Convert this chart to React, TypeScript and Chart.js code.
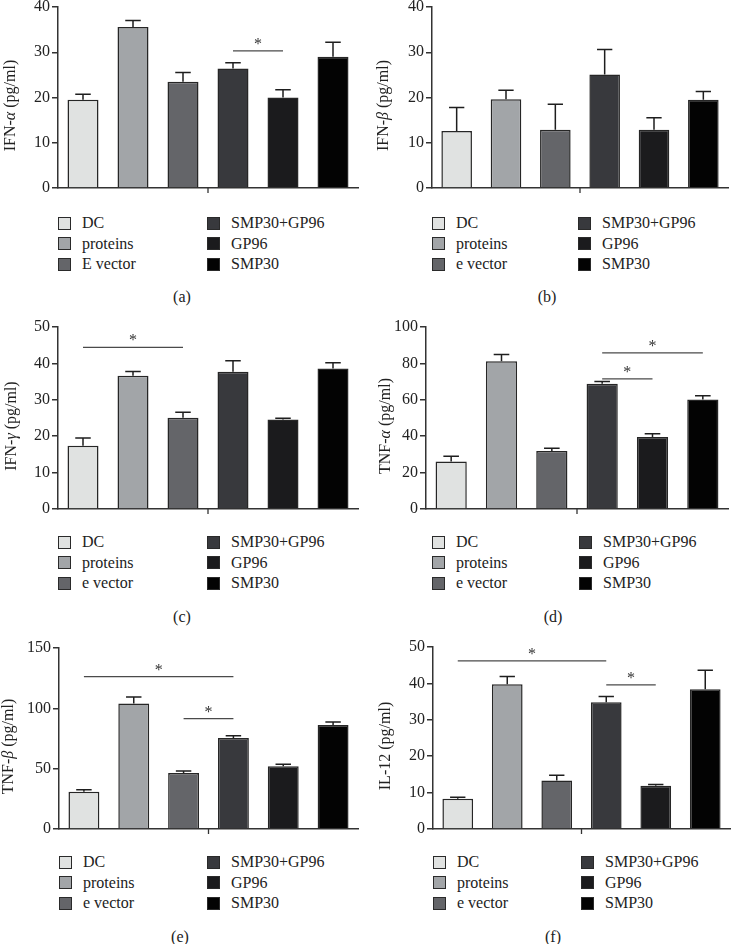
import React, { useEffect, useRef } from 'react';
import { Chart, registerables } from 'chart.js';

Chart.register(...registerables);

const FONT = '"Liberation Serif", "Times New Roman", serif';

// ---------- data ----------
const groupsA = ['DC', 'proteins', 'E vector', 'SMP30+GP96', 'GP96', 'SMP30'];
const groups = ['DC', 'proteins', 'e vector', 'SMP30+GP96', 'GP96', 'SMP30'];
const barColors = ['#e0e2e1', '#a2a5a8', '#646569', '#38393d', '#1b1b1d', '#030303'];

const ifnAlpha = [19.5, 35.6, 23.5, 26.4, 20.0, 29.0];
const ifnAlphaSD = [1.2, 1.4, 2.0, 1.3, 1.7, 3.2];
const ifnBeta = [12.6, 19.6, 12.9, 25.1, 12.9, 19.5];
const ifnBetaSD = [5.2, 2.0, 5.6, 5.5, 2.6, 1.8];
const ifnGamma = [17.4, 36.6, 25.1, 37.7, 24.6, 38.6];
const ifnGammaSD = [2.1, 1.2, 1.5, 3.0, 0.3, 1.6];
const tnfAlpha = [26.1, 81.2, 31.9, 68.8, 39.6, 60.2];
const tnfAlphaSD = [2.9, 3.7, 1.5, 1.3, 1.8, 2.0];
const tnfBeta = [30.9, 104.1, 46.4, 75.4, 51.9, 86.2];
const tnfBetaSD = [1.7, 5.3, 1.7, 1.9, 1.7, 2.5];
const il12 = [8.3, 39.8, 13.3, 34.8, 11.9, 38.4];
const il12SD = [0.4, 2.1, 1.5, 1.6, 0.3, 5.2];

// significance brackets: [from group index, to group index, y value]
const sigA: [number, number, number][] = [[3, 4, 30.3]];
const sigB: [number, number, number][] = [];
const sigC: [number, number, number][] = [[0, 2, 44.4]];
const sigD: [number, number, number][] = [[3, 5, 85.8], [3, 4, 71.5]];
const sigE: [number, number, number][] = [[0, 3, 126.2], [2, 3, 91.4]];
const sigF: [number, number, number][] = [[0, 3, 46.2], [3, 4, 39.6]];

const titleA: [string, boolean][] = [['IFN-', false], ['α', true], [' (pg/ml)', false]];
const titleB: [string, boolean][] = [['IFN-', false], ['β', true], [' (pg/ml)', false]];
const titleC: [string, boolean][] = [['IFN-', false], ['γ', true], [' (pg/ml)', false]];
const titleD: [string, boolean][] = [['TNF-', false], ['α', true], [' (pg/ml)', false]];
const titleE: [string, boolean][] = [['TNF-', false], ['β', true], [' (pg/ml)', false]];
const titleF: [string, boolean][] = [['IL-12 (pg/ml)', false]];

type PanelProps = {
  letter: string;
  legend: string[];
  values: number[];
  sd: number[];
  sig: [number, number, number][];
  yMax: number;
  yStep: number;
  title: [string, boolean][];
  left: number;
  top: number;
  w: number;
  h: number;
  area: { left: number; top: number; right: number; bottom: number };
  titleX: number;
  legendX: [number, number];
  legendY: number;
  labelX: number;
  labelY: number;
};

function Panel(p: PanelProps) {
  const ref = useRef<HTMLCanvasElement | null>(null);
  useEffect(() => {
    if (!ref.current) return;
    const overlay = {
      id: 'overlay',
      afterDatasetsDraw(chart: any) {
        const ctx = chart.ctx as CanvasRenderingContext2D;
        const ys = chart.scales.y;
        const meta = chart.getDatasetMeta(0);
        const ca = chart.chartArea;
        ctx.save();
        // error bars
        ctx.strokeStyle = '#1e1e1e';
        ctx.lineWidth = 1.5;
        meta.data.forEach((bar: any, i: number) => {
          const x = bar.x;
          const y0 = ys.getPixelForValue(p.values[i]);
          const y1 = ys.getPixelForValue(p.values[i] + p.sd[i]);
          const half = bar.width / 4;
          ctx.beginPath();
          ctx.moveTo(x, y0);
          ctx.lineTo(x, y1);
          ctx.moveTo(x - half, y1);
          ctx.lineTo(x + half, y1);
          ctx.stroke();
        });
        // significance lines
        p.sig.forEach(([a, b, v]) => {
          const x1 = meta.data[a].x;
          const x2 = meta.data[b].x;
          const py = ys.getPixelForValue(v);
          ctx.strokeStyle = '#4a4a4a';
          ctx.lineWidth = 1.3;
          ctx.beginPath();
          ctx.moveTo(x1, py);
          ctx.lineTo(x2, py);
          ctx.stroke();
          ctx.fillStyle = '#333';
          ctx.font = `16px ${FONT}`;
          ctx.textAlign = 'center';
          ctx.textBaseline = 'alphabetic';
          ctx.fillText('*', (x1 + x2) / 2, py - 2);
        });
        // center tick on x axis
        const cx = (ca.left + ca.right) / 2;
        ctx.strokeStyle = '#333';
        ctx.lineWidth = 1.3;
        ctx.beginPath();
        ctx.moveTo(cx, ca.bottom);
        ctx.lineTo(cx, ca.bottom + 5);
        ctx.stroke();
        // y axis title with italic greek
        const segs = p.title.map(([t, it]) => {
          ctx.font = `${it ? 'italic ' : ''}16px ${FONT}`;
          return { t, it, w: ctx.measureText(t).width };
        });
        const total = segs.reduce((s, x) => s + x.w, 0);
        const cy = (ca.top + ca.bottom) / 2 + 8;
        ctx.translate(p.titleX, cy);
        ctx.rotate(-Math.PI / 2);
        ctx.fillStyle = '#222';
        ctx.textBaseline = 'middle';
        ctx.textAlign = 'left';
        let sx = -total / 2;
        segs.forEach((s) => {
          ctx.font = `${s.it ? 'italic ' : ''}16px ${FONT}`;
          ctx.fillText(s.t, sx, 0);
          sx += s.w;
        });
        ctx.restore();
      },
    };
    const chart = new Chart(ref.current, {
      type: 'bar',
      data: {
        labels: p.legend,
        datasets: [
          {
            data: p.values,
            backgroundColor: barColors,
            borderColor: '#262626',
            borderWidth: 1.5,
            barPercentage: 0.62,
            categoryPercentage: 1,
          },
        ],
      },
      options: {
        responsive: false,
        animation: false,
        layout: { padding: { left: 0, top: p.area.top, right: p.w - p.area.right, bottom: 0 } },
        plugins: { legend: { display: false }, tooltip: { enabled: false } },
        scales: {
          x: {
            grid: { display: false },
            ticks: { display: false },
            border: { display: true, color: '#333', width: 1.5 },
            afterFit: (s: any) => {
              s.height = p.h - p.area.bottom;
              s.paddingLeft = 0;
              s.paddingRight = 0;
            },
          },
          y: {
            min: 0,
            max: p.yMax,
            ticks: { stepSize: p.yStep, padding: 2, color: '#222', font: { family: FONT, size: 16 } },
            grid: { display: true, drawOnChartArea: false, drawTicks: true, tickLength: 6, color: '#333', lineWidth: 1.5 },
            border: { display: true, color: '#333', width: 1.5 },
            afterFit: (s: any) => {
              s.width = p.area.left;
              s.paddingTop = 0;
              s.paddingBottom = 0;
            },
          },
        },
      } as any,
      plugins: [overlay],
    });
    return () => chart.destroy();
  }, []);

  return (
    <div style={{ position: 'absolute', left: p.left, top: p.top, width: p.w, height: 310 }}>
      <canvas ref={ref} width={p.w} height={p.h} style={{ position: 'absolute', left: 0, top: 0 }} />
      {p.legend.map((name, i) => {
        const col = Math.floor(i / 3);
        const row = i % 3;
        const x = p.legendX[col];
        const y = p.legendY + row * 20.6;
        return (
          <div
            key={name}
            style={{
              position: 'absolute',
              left: x,
              top: y - 10,
              height: 20,
              display: 'flex',
              alignItems: 'center',
              whiteSpace: 'nowrap',
              fontFamily: FONT,
              fontSize: 16,
              color: '#222',
            }}
          >
            <span
              style={{
                display: 'inline-block',
                width: 13,
                height: 13,
                boxSizing: 'border-box',
                border: '1.5px solid #2a2a2a',
                background: barColors[i],
                marginRight: 11,
              }}
            />
            <span>{name}</span>
          </div>
        );
      })}
      <div
        style={{
          position: 'absolute',
          left: p.labelX - 30,
          width: 60,
          top: p.labelY - 10,
          height: 20,
          lineHeight: '20px',
          textAlign: 'center',
          fontFamily: FONT,
          fontSize: 16,
          color: '#222',
        }}
      >
        ({p.letter})
      </div>
    </div>
  );
}

export default function App() {
  return (
    <div style={{ position: 'absolute', left: 0, top: 0, width: 731, height: 944, background: '#fff', overflow: 'hidden' }}>
      <Panel letter="a" legend={groupsA} values={ifnAlpha} sd={ifnAlphaSD} sig={sigA} yMax={40} yStep={10} title={titleA}
        left={0} top={0} w={365} h={200} area={{ left: 58, top: 7, right: 358, bottom: 188 }} titleX={11}
        legendX={[58, 207]} legendY={223} labelX={182} labelY={297} />
      <Panel letter="b" legend={groups} values={ifnBeta} sd={ifnBetaSD} sig={sigB} yMax={40} yStep={10} title={titleB}
        left={365} top={0} w={366} h={200} area={{ left: 67, top: 7, right: 363, bottom: 188 }} titleX={19}
        legendX={[67, 213]} legendY={223} labelX={182} labelY={297} />
      <Panel letter="c" legend={groups} values={ifnGamma} sd={ifnGammaSD} sig={sigC} yMax={50} yStep={10} title={titleC}
        left={0} top={310} w={365} h={210} area={{ left: 58, top: 17, right: 358, bottom: 199 }} titleX={12}
        legendX={[58, 207]} legendY={232} labelX={182} labelY={307} />
      <Panel letter="d" legend={groups} values={tnfAlpha} sd={tnfAlphaSD} sig={sigD} yMax={100} yStep={20} title={titleD}
        left={365} top={310} w={366} h={210} area={{ left: 61, top: 17, right: 363, bottom: 199 }} titleX={21}
        legendX={[67, 214]} legendY={232} labelX={188} labelY={307} />
      <Panel letter="e" legend={groups} values={tnfBeta} sd={tnfBetaSD} sig={sigE} yMax={150} yStep={50} title={titleE}
        left={0} top={620} w={365} h={220} area={{ left: 59, top: 28, right: 358, bottom: 209 }} titleX={9}
        legendX={[59, 207]} legendY={242} labelX={180} labelY={317} />
      <Panel letter="f" legend={groups} values={il12} sd={il12SD} sig={sigF} yMax={50} yStep={10} title={titleF}
        left={365} top={620} w={366} h={220} area={{ left: 68, top: 27, right: 365, bottom: 209 }} titleX={21}
        legendX={[68, 216]} legendY={242} labelX={188} labelY={317} />
    </div>
  );
}
